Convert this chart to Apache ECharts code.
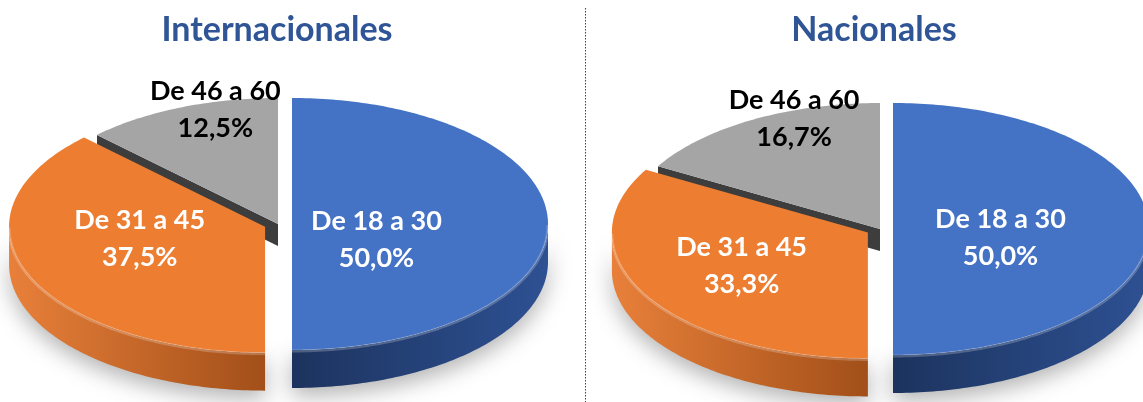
<!DOCTYPE html>
<html>
<head>
<meta charset="utf-8">
<script src="https://cdn.jsdelivr.net/npm/echarts@6/dist/echarts.min.js"></script>
<style>
    html, body { margin: 0; padding: 0; background: #fff; }
    #main { width: 1143px; height: 402px; }
</style>
</head>
<body>
<div id="main"></div>
<script>
// datos
var categorias = ['De 18 a 30', 'De 31 a 45', 'De 46 a 60'];
var internacionales = [50.0, 37.5, 12.5];
var nacionales = [50.0, 33.3, 16.7];
var titulos = ['Internacionales', 'Nacionales'];

// estilos
var colores = ['#4472C4', '#ED7D31', '#A5A5A5'];
var lateral = [
    ['#2f5597', '#1c335e', '#2e5193'],
    ['#e8803a', '#a24f19', '#e8803a'],
    ['#8a8a8a', '#555555', '#8a8a8a']
];
var radial = ['#2a4a86', '#b85d20', '#3d3d3d'];
var colorTexto = ['#ffffff', '#ffffff', '#000000'];

// posicion y tamaño de cada tarta (pseudo 3D)
var tartas = [
    { cx: 278, cy: 224, rx: 256, ry: 126, depth: 38, seam: 22, explode: [14, 14, 0], labelR: [0.33, 0.53, 0.64], labelDy: [16, -13, -40], titleX: 272 },
    { cx: 880, cy: 229, rx: 256, ry: 126, depth: 38, seam: 22, explode: [13, 14, 0], labelR: [0.42, 0.57, 0.67], labelDy: [9, -3, -37], titleX: 869 }
];

function formato(v) {
    return v.toFixed(1).replace('.', ',') + '%';
}

function crearRender(t, valores) {
    var total = valores.reduce(function (s, v) { return s + v; }, 0);
    var punto = function (c, a, dy) {
        var r = a * Math.PI / 180;
        return [c[0] + t.rx * Math.sin(r), c[1] - t.ry * Math.cos(r) + (dy || 0)];
    };
    var arco = function (c, a0, a1, dy) {
        var pts = [];
        var n = Math.max(2, Math.ceil(a1 - a0));
        for (var k = 0; k <= n; k++) {
            pts.push(punto(c, a0 + (a1 - a0) * k / n, dy));
        }
        return pts;
    };
    return function (params, api) {
        var i = params.dataIndex;
        var v = api.value(0);
        var antes = 0;
        for (var k = 0; k < i; k++) antes += valores[k];
        var a0 = antes / total * 360;
        var a1 = (antes + v) / total * 360;
        var mid = (a0 + a1) / 2;
        var m = mid * Math.PI / 180;
        var e = t.explode[i];
        var c = [t.cx + e * Math.sin(m), t.cy - e * Math.cos(m) * t.ry / t.rx];
        var hijos = [];

        // pared curva (solo la parte de delante)
        var b0 = Math.max(a0, 90), b1 = Math.min(a1, 270);
        if (b1 > b0) {
            var arriba = arco(c, b0, b1, 0);
            var abajo = arco(c, b0, b1, t.depth).reverse();
            hijos.push({
                type: 'polygon',
                z2: 1,
                shape: { points: arriba.concat(abajo) },
                style: {
                    fill: new echarts.graphic.LinearGradient(c[0] - t.rx, 0, c[0] + t.rx, 0, [
                        { offset: 0, color: lateral[i][0] },
                        { offset: 0.5, color: lateral[i][1] },
                        { offset: 1, color: lateral[i][2] }
                    ], true),
                    shadowBlur: 22,
                    shadowColor: 'rgba(0,0,0,0.3)',
                    shadowOffsetY: 8
                }
            });
            // brillo del borde
            hijos.push({
                type: 'polyline',
                z2: 2.5,
                shape: { points: arco(c, b0, b1, 1) },
                style: { stroke: 'rgba(255,255,255,0.22)', lineWidth: 3, fill: null }
            });
        }

        // paredes radiales visibles
        var paredes = [];
        if (Math.sin(a0 * Math.PI / 180) < -0.01) paredes.push(a0);
        if (Math.sin(a1 * Math.PI / 180) > 0.01) paredes.push(a1);
        paredes.forEach(function (a) {
            var p = punto(c, a, 0);
            hijos.push({
                type: 'polygon',
                z2: 1,
                shape: { points: [c, p, [p[0], p[1] + t.seam], [c[0], c[1] + t.seam]] },
                style: { fill: radial[i] }
            });
        });

        // cara superior
        hijos.push({
            type: 'polygon',
            z2: 2,
            shape: { points: [c].concat(arco(c, a0, a1, 0)) },
            style: { fill: colores[i] }
        });

        // etiqueta
        var lr = t.labelR[i];
        hijos.push({
            type: 'text',
            z2: 3,
            style: {
                text: categorias[i] + '\n' + formato(v),
                x: c[0] + t.rx * lr * Math.sin(m),
                y: c[1] - t.ry * lr * Math.cos(m) + t.labelDy[i],
                fill: colorTexto[i],
                fontSize: 27,
                fontWeight: 'bold',
                fontFamily: 'Lato',
                lineHeight: 37,
                align: 'center',
                verticalAlign: 'middle',
                textAlign: 'center',
                textVerticalAlign: 'middle'
            }
        });
        return { type: 'group', children: hijos };
    };
}

var myChart = echarts.init(document.getElementById('main'));
var datos = [internacionales, nacionales];

var option = {
    backgroundColor: '#ffffff',
    animation: false,
    title: titulos.map(function (txt, j) {
        return {
            text: txt,
            left: tartas[j].titleX,
            top: 8,
            textAlign: 'center',
            textStyle: { color: '#2F5597', fontSize: 34, fontWeight: 'bold', fontFamily: 'Lato' }
        };
    }),
    graphic: [
        {
            type: 'line',
            shape: { x1: 585.5, y1: 8, x2: 585.5, y2: 402 },
            style: { stroke: '#444', lineWidth: 1, lineDash: [1.5, 1.5] }
        }
    ],
    series: datos.map(function (valores, j) {
        return {
            type: 'custom',
            coordinateSystem: 'none',
            silent: true,
            data: valores.map(function (v, i) {
                return { name: categorias[i], value: [v] };
            }),
            renderItem: crearRender(tartas[j], valores)
        };
    })
};

myChart.setOption(option);
window.onresize = function () {
    myChart.resize();
};
</script>
</body>
</html>
